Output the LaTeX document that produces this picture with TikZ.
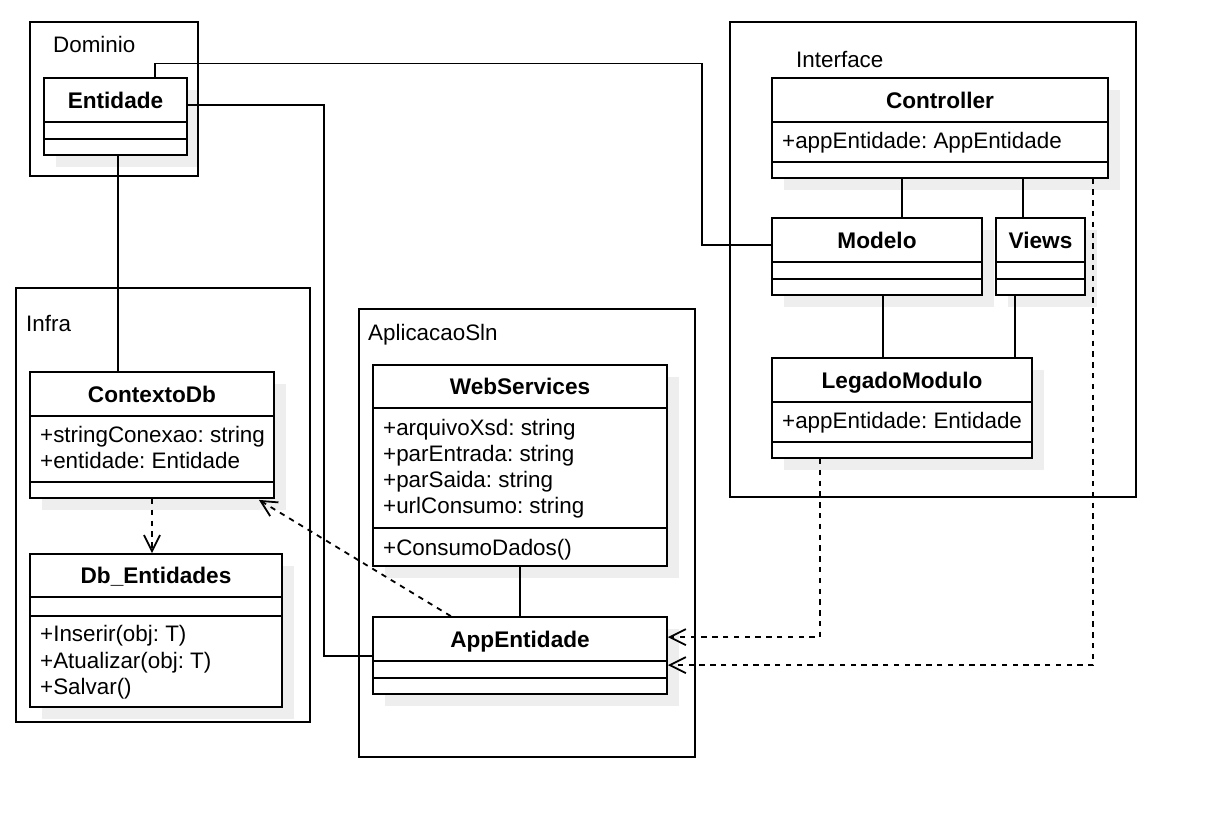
\documentclass[tikz,border=0pt]{standalone}
\usepackage{fontspec}
\setmainfont{Liberation Sans}
\usetikzlibrary{arrows.meta,fit,calc}
\definecolor{shadowc}{HTML}{EEEEEE}
\frenchspacing
\tikzset{
 ln/.style={line width=1.8pt},
 pkgbox/.style={draw, line width=1.8pt, inner sep=0pt},
 cbox/.style={draw, fill=white, line width=1.8pt, inner sep=0pt},
 ttl/.style={font=\fontsize{22.6}{26}\selectfont\bfseries\frenchspacing, anchor=base, inner sep=0pt},
 txt/.style={font=\fontsize{22.4}{26}\selectfont\frenchspacing, anchor=base west, inner sep=0pt},
 dep/.style={line width=1.8pt, dash pattern=on 5.4pt off 5.4pt, -{Straight Barb[length=16pt,width=16pt]}},
}
\newcommand\umlcls[8]{%
 \fill[shadowc] ({#2+12},{#3+12}) rectangle ({#4+12},{#5+12});
 \node[cbox, fit={(#2,#3) (#4,#5)}] (#1) {};
 \draw[ln] (#2,#6) -- (#4,#6);
 \draw[ln] (#2,#7) -- (#4,#7);
 \node[ttl] (#1-t) at ({(#2+#4)/2},{(#3+#6)/2+8}) {#8};
}
\begin{document}
\begin{tikzpicture}[x=1pt,y=-1pt]
\useasboundingbox (0,0) rectangle (1207,822);
% classes
\umlcls{entidade}{44}{78}{187}{155}{122}{139}{Entidade}
\umlcls{ctrl}{772}{78}{1108}{177.7}{122}{162}{Controller}
\node[txt] (ctrl-a1) at (782,148) {+appEntidade: AppEntidade};
\umlcls{modelo}{772}{218}{982}{295}{262}{279}{Modelo}
\umlcls{views}{996}{218}{1085}{295}{262}{279}{Views}
\umlcls{leg}{772}{358}{1032}{458}{402}{442}{LegadoModulo}
\node[txt] (leg-a1) at (782,428) {+appEntidade: Entidade};
\umlcls{ctx}{30}{372}{274}{498}{416}{482}{ContextoDb}
\node[txt] (ctx-a1) at (40,442) {+stringConexao: string};
\node[txt] (ctx-a2) at (40,468) {+entidade: Entidade};
\umlcls{db}{30}{554}{282}{707}{597}{616}{Db\_Entidades}
\node[txt] (db-m1) at (40,641) {+Inserir(obj: T)};
\node[txt] (db-m2) at (40,668) {+Atualizar(obj: T)};
\node[txt] (db-m3) at (40,694) {+Salvar()};
\umlcls{ws}{373}{365}{667}{566}{408}{528}{WebServices}
\node[txt] (ws-a1) at (383,435) {+arquivoXsd: string};
\node[txt] (ws-a2) at (383,461) {+parEntrada: string};
\node[txt] (ws-a3) at (383,487) {+parSaida: string};
\node[txt] (ws-a4) at (383,513) {+urlConsumo: string};
\node[txt] (ws-m1) at (383,555) {+ConsumoDados()};
\umlcls{app}{373}{617}{667}{694}{661}{678}{AppEntidade}
% packages
\node[pkgbox, fit={(30,22) (198,176)}] (dominio) {};
\node[txt] (dominio-l) at (53,52) {Dominio};
\node[pkgbox, fit={(730,22) (1136,497)}] (interface) {};
\node[txt] (interface-l) at (796,67) {Interface};
\node[pkgbox, fit={(16,288) (310,722)}] (infra) {};
\node[txt] (infra-l) at (26,331) {Infra};
\node[pkgbox, fit={(359,309) (695,757)}] (aplic) {};
\node[txt] (aplic-l) at (368,340) {AplicacaoSln};
% connectors
\coordinate (e1) at ([xshift=75pt]entidade.south west);
\draw[ln] (e1) -- (e1 |- ctx.north);
\coordinate (e2) at ([xshift=112pt]entidade.north west);
\coordinate (k1) at (702,63.5);
\draw[ln] (e2) |- (k1) |- ([yshift=-28pt]modelo.north west);
\coordinate (k2) at (324,655.7);
\draw[ln] ([yshift=-28pt]entidade.north east) -| (k2) -- (k2 -| app.west);
\draw[dep] (ctx.south) -- (ctx.south |- db.north);
\draw[dep] ([xshift=78.7pt]app.north west) -- ([xshift=-16pt,yshift=-1pt]ctx.south east);
\draw[ln] (ws.south) -- (app.north);
\coordinate (c1) at ([xshift=131pt]ctrl.south west);
\draw[ln] (c1) -- (c1 |- modelo.north);
\coordinate (c2) at ([xshift=252pt]ctrl.south west);
\draw[ln] (c2) -- (c2 |- views.north);
\coordinate (m1) at ([xshift=112pt]modelo.south west);
\draw[ln] (m1) -- (m1 |- leg.north);
\coordinate (v1) at ([xshift=20pt]views.south west);
\draw[ln] (v1) -- (v1 |- leg.north);
\draw[dep] ([xshift=49pt]leg.south west) |- ([yshift=-21pt]app.north east);
\draw[dep] ([xshift=322pt]ctrl.south west) |- ([yshift=-49pt]app.north east);
\end{tikzpicture}
\end{document}
